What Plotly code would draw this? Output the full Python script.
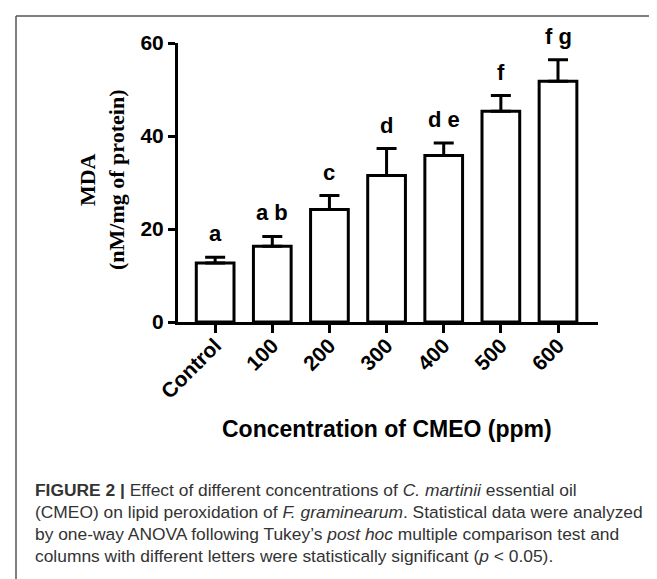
import plotly.graph_objects as go

categories = ["Control", "100", "200", "300", "400", "500", "600"]
mda_values = [12.7, 16.3, 24.2, 31.5, 35.8, 45.3, 51.8]
mda_error = [1.2, 2.1, 3.0, 5.8, 2.7, 3.4, 4.6]
letters = ["a", "a b", "c", "d", "d e", "f", "f g"]
y_ticks = [0, 20, 40, 60]

W, H = 657, 579
L, R, T, B = 170, 67, 35, 265
PW, PH = W - L - R, H - T - B


def xp(px):
    return (px - L) / PW


def yp(py):
    return (H - B - py) / PH


SANS = "Liberation Sans, Arial, sans-serif"
SERIF = "Liberation Serif, Times New Roman, serif"

fig = go.Figure()
fig.add_trace(go.Bar(
    x=categories, y=mda_values, width=0.66,
    marker=dict(color="white", line=dict(color="black", width=3)),
    error_y=dict(type="data", array=mda_error, arrayminus=[0] * len(mda_error),
                 symmetric=False, color="black", thickness=3, width=10),
    showlegend=False,
))

for i, (v, e, t) in enumerate(zip(mda_values, mda_error, letters)):
    fig.add_annotation(x=i, y=v + e, text=t, showarrow=False, xref="x", yref="y",
                       yanchor="bottom", yshift=9,
                       font=dict(family=SANS, size=22, color="black", weight="bold"))

fig.add_annotation(x=xp(94), y=yp(172), xref="paper", yref="paper",
                   text="MDA<br>(nM/mg of protein)", showarrow=False, textangle=-90,
                   xanchor="center", yanchor="middle",
                   font=dict(family=SERIF, size=22, color="black", weight="bold"))

fig.add_annotation(x=xp(378.5), y=yp(421), xref="paper", yref="paper",
                   text="Concentration of CMEO (ppm)", showarrow=False,
                   xanchor="center", yanchor="middle",
                   font=dict(family=SANS, size=23, color="black", weight="bold"))

caption_lines = [
    "<b>FIGURE 2 |</b> Effect of different concentrations of <i>C. martinii</i> essential oil",
    "(CMEO) on lipid peroxidation of <i>F. graminearum</i>. Statistical data were analyzed",
    "by one-way ANOVA following Tukey’s <i>post hoc</i> multiple comparison test and",
    "columns with different letters were statistically significant (<i>p</i> < 0.05).",
]
caption_y = [482, 504, 526, 548]
for line, py in zip(caption_lines, caption_y):
    fig.add_annotation(x=xp(25), y=yp(py), xref="paper", yref="paper", text=line,
                       showarrow=False, xanchor="left", yanchor="middle", align="left",
                       font=dict(family=SANS, size=17.4, color="#333333"))

# frame lines (left and top)
fig.add_shape(type="line", xref="paper", yref="paper", x0=xp(8), x1=xp(8),
              y0=yp(8), y1=yp(H + 5), line=dict(color="#555555", width=1.5))
fig.add_shape(type="line", xref="paper", yref="paper", x0=xp(8), x1=xp(W + 5),
              y0=yp(8), y1=yp(8), line=dict(color="#555555", width=1.5))

fig.update_layout(
    width=W, height=H,
    margin=dict(l=L, r=R, t=T, b=B),
    paper_bgcolor="white", plot_bgcolor="white",
    bargap=0.3,
)
fig.update_xaxes(
    type="category", range=[-0.65, 6.7], showline=True, linecolor="black", linewidth=3,
    ticks="outside", ticklen=8, tickwidth=3, tickcolor="black",
    tickangle=-45, showgrid=False, zeroline=False, ticklabelstandoff=-8,
    tickfont=dict(family=SANS, size=21, color="black", weight="bold"),
)
fig.update_yaxes(
    range=[0, 60], tickvals=y_ticks, showline=True, linecolor="black", linewidth=3,
    ticks="outside", ticklen=7, tickwidth=3, tickcolor="black",
    showgrid=False, zeroline=False,
    tickfont=dict(family=SANS, size=21, color="black", weight="bold"),
)

fig.write_html("out.html")
